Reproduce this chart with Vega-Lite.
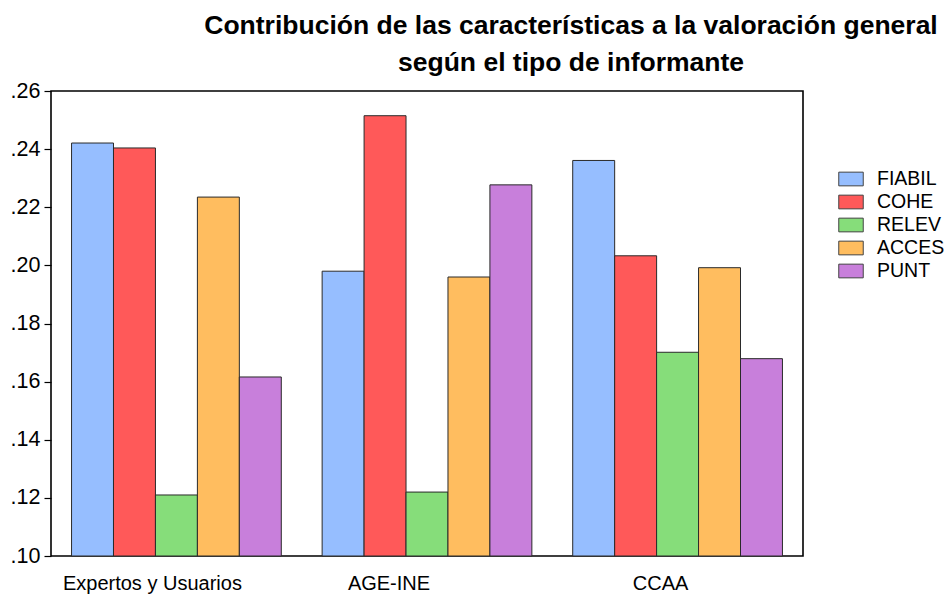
{
  "$schema": "https://vega.github.io/schema/vega-lite/v6.json",
  "autosize": {"type": "none"},
  "width": 752,
  "height": 465,
  "padding": {"left": 51, "top": 91, "right": 145, "bottom": 38},
  "background": "white",
  "title": {
    "text": ["Contribución de las características a la valoración general", "según el tipo de informante"],
    "font": "Liberation Sans",
    "fontSize": 26.5,
    "fontWeight": "bold",
    "color": "#000",
    "anchor": "middle",
    "dx": 144,
    "offset": 4,
    "lineHeight": 37
  },
  "config": {
    "view": {"stroke": "#000", "strokeWidth": 1.6},
    "font": "Liberation Sans"
  },
  "data": {
    "values": [
      {"grupo": "Expertos y Usuarios", "car": "FIABIL", "valor": 0.2421},
      {"grupo": "Expertos y Usuarios", "car": "COHE", "valor": 0.2404},
      {"grupo": "Expertos y Usuarios", "car": "RELEV", "valor": 0.1210},
      {"grupo": "Expertos y Usuarios", "car": "ACCES", "valor": 0.2235},
      {"grupo": "Expertos y Usuarios", "car": "PUNT", "valor": 0.1616},
      {"grupo": "AGE-INE", "car": "FIABIL", "valor": 0.1980},
      {"grupo": "AGE-INE", "car": "COHE", "valor": 0.2515},
      {"grupo": "AGE-INE", "car": "RELEV", "valor": 0.1220},
      {"grupo": "AGE-INE", "car": "ACCES", "valor": 0.1960},
      {"grupo": "AGE-INE", "car": "PUNT", "valor": 0.2277},
      {"grupo": "CCAA", "car": "FIABIL", "valor": 0.2361},
      {"grupo": "CCAA", "car": "COHE", "valor": 0.2033},
      {"grupo": "CCAA", "car": "RELEV", "valor": 0.1701},
      {"grupo": "CCAA", "car": "ACCES", "valor": 0.1992},
      {"grupo": "CCAA", "car": "PUNT", "valor": 0.1679}
    ]
  },
  "mark": {"type": "bar", "stroke": "#2a2a2a", "strokeWidth": 1},
  "encoding": {
    "x": {
      "field": "grupo",
      "type": "nominal",
      "sort": ["Expertos y Usuarios", "AGE-INE", "CCAA"],
      "scale": {"paddingInner": 0.163, "paddingOuter": 0.082},
      "axis": {
        "title": null,
        "labelAngle": 0,
        "ticks": false,
        "domain": false,
        "labelFont": "Liberation Sans",
        "labelFontSize": 20,
        "labelColor": "#000",
        "labelPadding": 17,
        "labelOffset": {
          "condition": [
            {"test": "datum.value === 'AGE-INE'", "value": -38},
            {"test": "datum.value === 'CCAA'", "value": -17}
          ],
          "value": -24
        }
      }
    },
    "xOffset": {
      "field": "car",
      "type": "nominal",
      "sort": ["FIABIL", "COHE", "RELEV", "ACCES", "PUNT"],
      "scale": {"paddingInner": 0, "paddingOuter": 0}
    },
    "y": {
      "field": "valor",
      "type": "quantitative",
      "scale": {"domain": [0.10, 0.26], "zero": false, "nice": false},
      "axis": {
        "title": null,
        "values": [0.10, 0.12, 0.14, 0.16, 0.18, 0.20, 0.22, 0.24, 0.26],
        "labelExpr": "'.' + substring(format(datum.value, '.2f'), 2)",
        "grid": false,
        "domain": false,
        "tickColor": "#000",
        "tickSize": 7,
        "tickWidth": 1.2,
        "labelFont": "Liberation Sans",
        "labelFontSize": 21.5,
        "labelColor": "#000",
        "labelPadding": 4
      }
    },
    "y2": {"datum": 0.10},
    "color": {
      "field": "car",
      "type": "nominal",
      "sort": ["FIABIL", "COHE", "RELEV", "ACCES", "PUNT"],
      "scale": {
        "domain": ["FIABIL", "COHE", "RELEV", "ACCES", "PUNT"],
        "range": ["#96BEFF", "#FF5959", "#86DD7A", "#FFBD5F", "#C87FDB"]
      },
      "legend": {
        "title": null,
        "orient": "none",
        "legendX": 787,
        "legendY": 75,
        "symbolType": "M-1,-0.56L1,-0.56L1,0.56L-1,0.56Z",
        "symbolSize": 600,
        "symbolStrokeColor": "#444",
        "symbolStrokeWidth": 1,
        "symbolOpacity": 1,
        "labelFont": "Liberation Sans",
        "labelFontSize": 19.5,
        "labelColor": "#000",
        "labelOffset": 13,
        "rowPadding": 0
      }
    }
  }
}
